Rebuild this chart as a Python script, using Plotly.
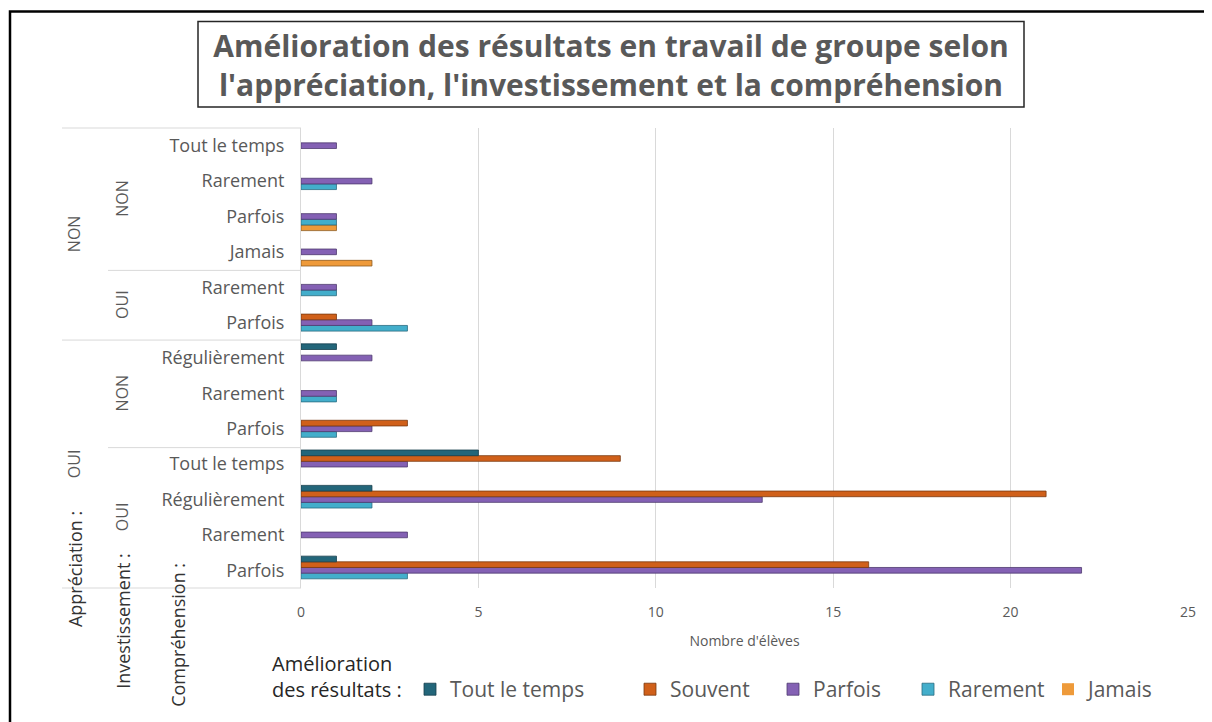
import plotly.graph_objects as go

# ---------------- data (categories listed bottom -> top) ----------------
appreciation = ["OUI", "OUI", "OUI", "OUI", "OUI", "OUI", "OUI",
                "NON", "NON", "NON", "NON", "NON", "NON"]
investissement = ["OUI", "OUI", "OUI", "OUI", "NON", "NON", "NON",
                  "OUI", "OUI", "NON", "NON", "NON", "NON"]
comprehension = ["Parfois", "Rarement", "Régulièrement", "Tout le temps",
                 "Parfois", "Rarement", "Régulièrement",
                 "Parfois", "Rarement",
                 "Jamais", "Parfois", "Rarement", "Tout le temps"]

series_names = ["Tout le temps", "Souvent", "Parfois", "Rarement", "Jamais"]
tout_le_temps = [1, 0, 2, 5, 0, 0, 1, 0, 0, 0, 0, 0, 0]
souvent       = [16, 0, 21, 9, 3, 0, 0, 1, 0, 0, 0, 0, 0]
parfois       = [22, 3, 13, 3, 2, 1, 2, 2, 1, 1, 1, 2, 1]
rarement      = [3, 0, 2, 0, 1, 1, 0, 3, 1, 0, 1, 1, 0]
jamais        = [0, 0, 0, 0, 0, 0, 0, 0, 0, 2, 1, 0, 0]

x_ticks = [0, 5, 10, 15, 20, 25]

# ---------------- styling ----------------
colors = {"Tout le temps": "#23667A", "Souvent": "#D0601A", "Parfois": "#8461B4",
          "Rarement": "#43AECB", "Jamais": "#EE9A3A"}
edges = {"Tout le temps": "#163F4C", "Souvent": "#7A3A10", "Parfois": "#4E3A6E",
         "Rarement": "#2A6C80", "Jamais": "#8E5A1E"}
# window x of each legend entry's left edge
legend_x = {"Tout le temps": 410, "Souvent": 630, "Parfois": 773,
            "Rarement": 908, "Jamais": 1048}
legend_ids = {"Tout le temps": "legend", "Souvent": "legend2", "Parfois": "legend3",
              "Rarement": "legend4", "Jamais": "legend5"}

OFF = 8                      # page body margin
W, H = 1212 - OFF, 722 - OFF
L, R, T, B = 301 - OFF, 1188 - OFF, 128 - OFF, 590 - OFF   # plot area (figure px)
PW, PH = R - L, B - T

def px(xw):
    """window x pixel -> paper x"""
    return (xw - OFF - L) / PW

def py(yw):
    """window y pixel -> paper y"""
    return (B - (yw - OFF)) / PH

cat_keys = [f"{a}|{i}|{c}" for a, i, c in zip(appreciation, investissement, comprehension)]

values = {"Tout le temps": tout_le_temps, "Souvent": souvent, "Parfois": parfois,
          "Rarement": rarement, "Jamais": jamais}

fig = go.Figure()
# added bottom-slot first so that "Tout le temps" sits at the top of each group
for name in reversed(series_names):
    vals = values[name]
    fig.add_trace(go.Bar(
        y=cat_keys, x=vals, name=name, orientation="h",
        marker=dict(color=colors[name],
                    line=dict(color=edges[name], width=[0.8 if v > 0 else 0 for v in vals])),
        legend=legend_ids[name],
    ))

GRAY = "#595959"
FONT = "Open Sans, DejaVu Sans, sans-serif"
LEG_FONT = 21
fig.update_layout(
    width=W, height=H,
    margin=dict(l=L, r=W - R, t=T, b=H - B),
    paper_bgcolor="white", plot_bgcolor="white",
    barmode="group", bargap=0.2, bargroupgap=0.0,
    font=dict(family=FONT, color=GRAY),
    title=dict(
        text="Amélioration des résultats en travail de groupe selon<br>l'appréciation, l'investissement et la compréhension",
        x=(611 - OFF) / W, xanchor="center", y=1 - (57 - OFF) / H, yanchor="middle",
        xref="container", yref="container",
        font=dict(family=FONT, size=30, color=GRAY, weight="bold"),
    ),
    xaxis=dict(
        range=[0, 25], tickvals=x_ticks, showgrid=True, gridcolor="#D9D9D9", gridwidth=1,
        zeroline=False, showline=False, ticks="", ticklabelstandoff=14,
        tickfont=dict(size=14, color=GRAY),
        title=dict(text="Nombre d'élèves", standoff=16,
                   font=dict(size=14, color=GRAY)),
    ),
    yaxis=dict(
        type="category", categoryorder="array", categoryarray=cat_keys,
        tickvals=cat_keys, ticktext=comprehension, range=[-0.5, 12.5],
        showgrid=False, zeroline=False, showline=True, linecolor="#D9D9D9", linewidth=1,
        ticks="", ticklabelstandoff=12,
        tickfont=dict(size=18, color=GRAY),
    ),
    showlegend=True,
)

for name in series_names:
    lid = legend_ids[name]
    fig.update_layout({lid: dict(orientation="h", x=px(legend_x[name]), xanchor="left",
                                 y=py(692), yanchor="middle", bgcolor="rgba(0,0,0,0)",
                                 font=dict(size=LEG_FONT, color=GRAY), itemwidth=30)})

shapes = []
# outer frame (left and top edges visible)
shapes.append(dict(type="rect", xref="paper", yref="paper",
                   x0=px(10), x1=px(1240), y0=py(750), y1=py(11),
                   line=dict(color="black", width=2.5), fillcolor="rgba(0,0,0,0)", layer="above"))
# title box
shapes.append(dict(type="rect", xref="paper", yref="paper",
                   x0=px(198), x1=px(1024), y0=py(107), y1=py(21),
                   line=dict(color="#262626", width=1.5), fillcolor="rgba(0,0,0,0)"))
# hierarchical category separators
for yw, x0 in [(590, 62), (449, 108), (341, 62), (271, 108), (128, 62)]:
    shapes.append(dict(type="line", xref="paper", yref="paper",
                       x0=px(x0), x1=0, y0=py(yw), y1=py(yw),
                       line=dict(color="#D9D9D9", width=1)))
fig.update_layout(shapes=shapes)

annotations = []
# outer group labels (Appréciation)
for grp in ["OUI", "NON"]:
    idx = [k for k, a in enumerate(appreciation) if a == grp]
    annotations.append(dict(x=px(74), y=(min(idx) + max(idx)) / 2, xref="paper", yref="y",
                            xanchor="center", yanchor="middle",
                            text=grp, textangle=-90, showarrow=False,
                            font=dict(size=16, color=GRAY)))
# middle group labels (Investissement)
k = 0
while k < len(cat_keys):
    j = k
    while (j + 1 < len(cat_keys) and appreciation[j + 1] == appreciation[k]
           and investissement[j + 1] == investissement[k]):
        j += 1
    annotations.append(dict(x=px(122), y=(k + j) / 2, xref="paper", yref="y",
                            xanchor="center", yanchor="middle",
                            text=investissement[k], textangle=-90, showarrow=False,
                            font=dict(size=16, color=GRAY)))
    k = j + 1
# level names
for txt, xw, yc in [("Appréciation :", 75, 571), ("Investissement :", 123, 623),
                    ("Compréhension :", 178, 637)]:
    annotations.append(dict(x=px(xw), y=py(yc), xref="paper", yref="paper",
                            xanchor="center", yanchor="middle",
                            text=txt, textangle=-90, showarrow=False,
                            font=dict(size=18, color="#333333")))
# legend heading (two lines)
annotations.append(dict(x=px(270), y=py(679), xref="paper", yref="paper",
                        xanchor="left", yanchor="middle", align="left",
                        text="Amélioration<br>des résultats :",
                        showarrow=False, font=dict(size=20, color="#262626")))
fig.update_layout(annotations=annotations)

fig.write_html("out.html")
